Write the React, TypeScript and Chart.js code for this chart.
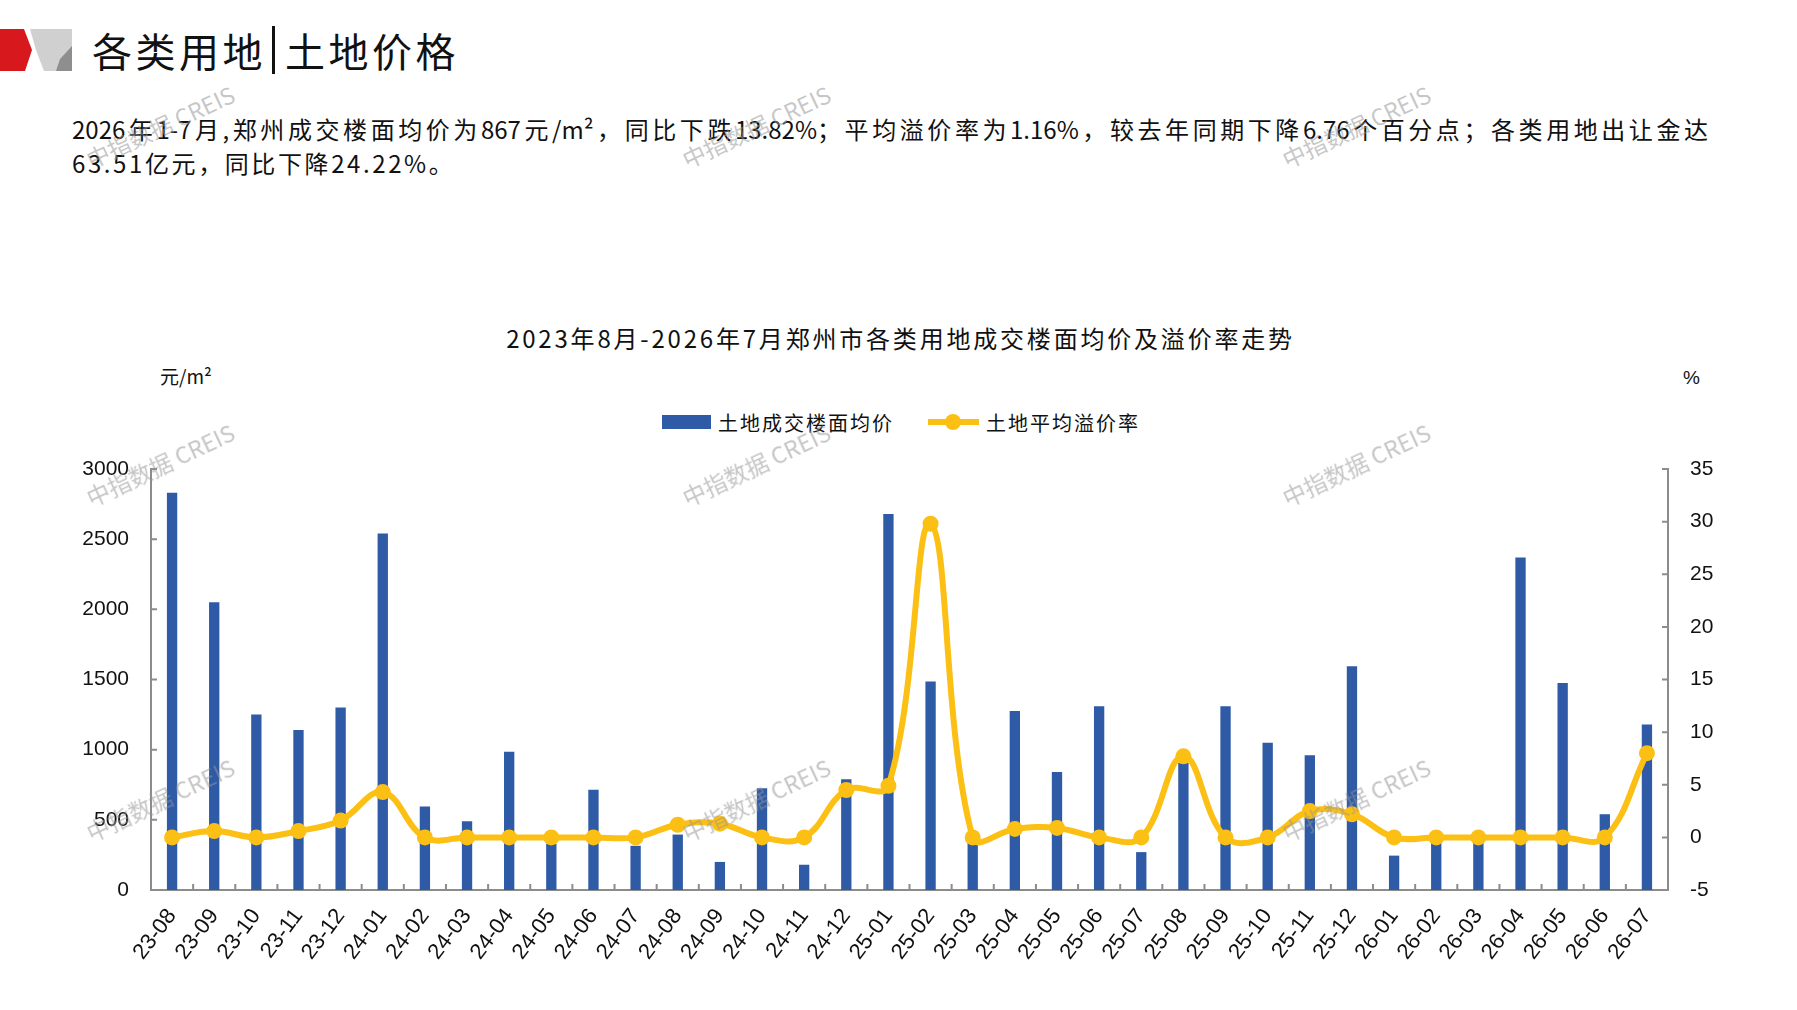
import { Chart, registerables, Plugin } from 'chart.js';
import React, { useEffect, useRef } from 'react';

Chart.register(...registerables);

const months = [
  '23-08', '23-09', '23-10', '23-11', '23-12',
  '24-01', '24-02', '24-03', '24-04', '24-05', '24-06', '24-07', '24-08', '24-09', '24-10', '24-11', '24-12',
  '25-01', '25-02', '25-03', '25-04', '25-05', '25-06', '25-07', '25-08', '25-09', '25-10', '25-11', '25-12',
  '26-01', '26-02', '26-03', '26-04', '26-05', '26-06', '26-07',
];

// 土地成交楼面均价 (元/m²)
const avgPrice = [
  2830, 2050, 1250, 1140, 1300,
  2540, 595, 490, 985, 330, 715, 315, 395, 200, 725, 180, 790,
  2680, 1485, 340, 1275, 840, 1310, 270, 905, 1310, 1050, 960, 1595,
  245, 360, 350, 2370, 1475, 540, 1180,
];

// 土地平均溢价率 (%)
const premiumRate = [
  0, 0.6, 0, 0.6, 1.6,
  4.3, 0, 0, 0, 0, 0, 0, 1.2, 1.3, 0, 0, 4.5,
  4.9, 29.8, 0, 0.8, 0.9, 0, 0, 7.7, 0, 0, 2.5, 2.2,
  0, 0, 0, 0, 0, 0, 8.0,
];

const leftTicks = [0, 500, 1000, 1500, 2000, 2500, 3000];
const rightTicks = [-5, 0, 5, 10, 15, 20, 25, 30, 35];

const BAR_COLOR = '#2E5AA6';
const LINE_COLOR = '#FCBF14';
const AXIS_COLOR = '#8C8C8C';
const CJK = '"Noto Sans CJK SC", "Noto Sans", sans-serif';
const NUM = '"Liberation Sans", Arial, sans-serif';

// small tick marks pointing into the plot area, like the source chart
const innerTicks: Plugin = {
  id: 'innerTicks',
  afterDraw(chart) {
    const { ctx, scales } = chart;
    const x = scales.x;
    const yl = scales.y;
    const yr = scales.y1;
    const len = 6;
    ctx.save();
    ctx.strokeStyle = AXIS_COLOR;
    ctx.lineWidth = 2;
    ctx.beginPath();
    const step = (x.right - x.left) / months.length;
    for (let i = 1; i < months.length; i++) {
      const px = x.left + i * step;
      ctx.moveTo(px, x.top);
      ctx.lineTo(px, x.top - len);
    }
    leftTicks.forEach(v => {
      const py = yl.getPixelForValue(v);
      ctx.moveTo(yl.right, py);
      ctx.lineTo(yl.right + len, py);
    });
    rightTicks.forEach(v => {
      const py = yr.getPixelForValue(v);
      ctx.moveTo(yr.left, py);
      ctx.lineTo(yr.left - len, py);
    });
    ctx.stroke();
    ctx.restore();
  },
};

function PriceChart() {
  const canvasRef = useRef<HTMLCanvasElement>(null);

  useEffect(() => {
    if (!canvasRef.current) return;
    const chart = new Chart(canvasRef.current, {
      type: 'bar',
      data: {
        labels: months,
        datasets: [
          {
            type: 'line',
            label: '土地平均溢价率',
            data: premiumRate,
            yAxisID: 'y1',
            borderColor: LINE_COLOR,
            backgroundColor: LINE_COLOR,
            borderWidth: 6,
            pointRadius: 8,
            pointHoverRadius: 8,
            pointBackgroundColor: LINE_COLOR,
            pointBorderWidth: 0,
            tension: 0.4,
            order: 0,
          },
          {
            type: 'bar',
            label: '土地成交楼面均价',
            data: avgPrice,
            yAxisID: 'y',
            backgroundColor: BAR_COLOR,
            barPercentage: 0.245,
            categoryPercentage: 1,
            order: 1,
          },
        ],
      },
      options: {
        responsive: true,
        maintainAspectRatio: false,
        animation: false,
        layout: { padding: { top: 29, left: 0, right: 0, bottom: 0 } },
        plugins: {
          legend: { display: false },
          title: { display: false },
          tooltip: { enabled: false },
        },
        scales: {
          x: {
            grid: { display: false },
            border: { color: AXIS_COLOR, width: 2 },
            ticks: {
              autoSkip: false,
              minRotation: 53,
              maxRotation: 53,
              padding: 6,
              color: '#111',
              font: { family: NUM, size: 22 },
            },
            afterFit: scale => {
              scale.height = 120;
            },
          },
          y: {
            position: 'left',
            min: 0,
            max: 3000,
            grid: { display: false },
            border: { color: AXIS_COLOR, width: 2 },
            ticks: {
              stepSize: 500,
              padding: 14,
              color: '#111',
              font: { family: NUM, size: 21 },
              callback: v => String(v),
            },
            afterFit: scale => {
              scale.width = 151;
            },
          },
          y1: {
            position: 'right',
            min: -5,
            max: 35,
            grid: { display: false },
            border: { color: AXIS_COLOR, width: 2 },
            ticks: {
              stepSize: 5,
              padding: 14,
              color: '#111',
              font: { family: NUM, size: 21 },
              callback: v => String(v),
            },
            afterFit: scale => {
              scale.width = 129;
            },
          },
        },
      },
      plugins: [innerTicks],
    });
    return () => {
      chart.destroy();
    };
  }, []);

  return (
    <div style={{ position: 'absolute', left: 0, top: 440, width: 1797, height: 570 }}>
      <canvas ref={canvasRef} />
    </div>
  );
}

const watermarkSpots = [
  [160, 126], [756, 126], [1356, 126],
  [160, 464], [756, 464], [1356, 464],
  [160, 799], [756, 799], [1356, 799],
];

export default function App() {
  return (
    <div
      style={{
        position: 'absolute',
        left: 0,
        top: 0,
        width: 1797,
        height: 1010,
        background: '#fff',
        overflow: 'hidden',
        fontFamily: CJK,
        color: '#111',
      }}
    >
      {/* header mark */}
      <svg style={{ position: 'absolute', left: 0, top: 0 }} width={80} height={80}>
        <polygon points="0,29 24,29 32,50 25,71 0,71" fill="#D7191E" />
        <polygon points="30,29 72,29 72,71 44,71 36,50" fill="#D0D0D0" />
        <polygon points="72,46 72,71 56,71 60,59" fill="#8E8E8E" />
      </svg>
      <div
        style={{
          position: 'absolute',
          left: 92,
          top: 22,
          fontSize: 40,
          lineHeight: '56px',
          letterSpacing: 3.5,
          whiteSpace: 'nowrap',
          display: 'flex',
          alignItems: 'center',
        }}
      >
        <span>各类用地</span>
        <span style={{ display: 'inline-block', width: 3, height: 48, background: '#111', margin: '0 10px 0 6px' }} />
        <span>土地价格</span>
      </div>

      {/* summary text */}
      <div
        style={{
          position: 'absolute',
          left: 72,
          top: 112,
          width: 1636,
          fontSize: 24,
          lineHeight: '34px',
          textAlign: 'justify',
          textAlignLast: 'justify',
          whiteSpace: 'nowrap',
        }}
      >
        2026年1-7月,郑州成交楼面均价为867元/m²，同比下跌13.82%；平均溢价率为1.16%，较去年同期下降6.76个百分点；各类用地出让金达
      </div>
      <div
        style={{
          position: 'absolute',
          left: 72,
          top: 146,
          fontSize: 24,
          lineHeight: '34px',
          letterSpacing: 2.6,
          whiteSpace: 'nowrap',
        }}
      >
        63.51亿元，同比下降24.22%。
      </div>

      {/* chart title */}
      <div
        style={{
          position: 'absolute',
          left: 0,
          width: 1797,
          top: 321,
          textAlign: 'center',
          fontSize: 24,
          lineHeight: '34px',
          letterSpacing: 2.8,
          paddingLeft: 2,
        }}
      >
        2023年8月-2026年7月郑州市各类用地成交楼面均价及溢价率走势
      </div>

      {/* axis units */}
      <div style={{ position: 'absolute', left: 160, top: 364, fontSize: 19, lineHeight: '24px', whiteSpace: 'nowrap' }}>
        元/m²
      </div>
      <div style={{ position: 'absolute', left: 1683, top: 366, fontSize: 19, lineHeight: '24px', fontFamily: NUM }}>
        %
      </div>

      {/* legend */}
      <div
        style={{
          position: 'absolute',
          left: 662,
          top: 408,
          height: 28,
          display: 'flex',
          alignItems: 'center',
          fontSize: 20,
          letterSpacing: 2,
          whiteSpace: 'nowrap',
        }}
      >
        <span style={{ display: 'inline-block', width: 49, height: 14, background: BAR_COLOR, marginRight: 7 }} />
        <span>土地成交楼面均价</span>
        <span style={{ position: 'relative', display: 'inline-block', width: 51, height: 14, marginLeft: 34, marginRight: 7 }}>
          <span style={{ position: 'absolute', left: 0, top: 4, width: 51, height: 6, background: LINE_COLOR }} />
          <span
            style={{
              position: 'absolute',
              left: 17,
              top: -1,
              width: 16,
              height: 16,
              borderRadius: 8,
              background: LINE_COLOR,
            }}
          />
        </span>
        <span>土地平均溢价率</span>
      </div>

      <PriceChart />

      {/* watermarks */}
      {watermarkSpots.map(([cx, cy], i) => (
        <div
          key={i}
          style={{
            position: 'absolute',
            left: cx - 100,
            top: cy - 15,
            width: 200,
            height: 30,
            lineHeight: '30px',
            textAlign: 'center',
            fontSize: 23,
            color: 'rgba(150,150,150,0.55)',
            transform: 'rotate(-25deg)',
            whiteSpace: 'nowrap',
            pointerEvents: 'none',
            fontFamily: '"Noto Sans CJK SC", "Liberation Sans", sans-serif',
          }}
        >
          中指数据 CREIS
        </div>
      ))}
    </div>
  );
}
